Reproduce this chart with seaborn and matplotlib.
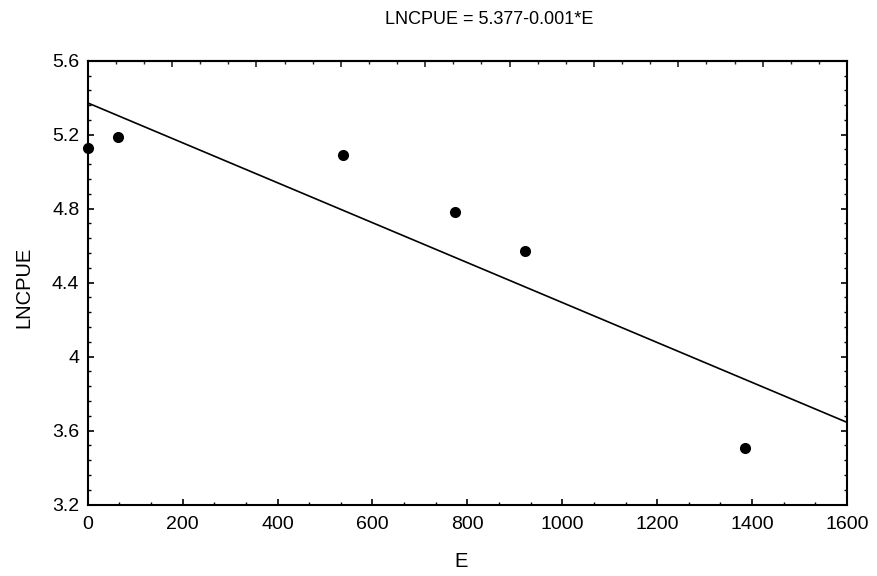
import matplotlib
matplotlib.use("Agg")
import matplotlib.pyplot as plt
from matplotlib.ticker import MultipleLocator, NullFormatter
import seaborn as sns
import pandas as pd

E = [0, 63, 537, 774, 921, 1384]
LNCPUE = [5.128, 5.189, 5.088, 4.782, 4.569, 3.503]
title_text = "LNCPUE = 5.377-0.001*E"

df = pd.DataFrame({"E": E, "LNCPUE": LNCPUE})

sns.set_theme(style="ticks")
plt.rcParams["font.family"] = ["Liberation Sans", "DejaVu Sans"]

fig = plt.figure(figsize=(8.77, 5.76), dpi=100)
ax = fig.add_axes([0.100, 0.1241, 0.8658, 0.7705])
ax.set_xlim(0, 1600)
ax.set_ylim(3.2, 5.6)

sns.regplot(data=df, x="E", y="LNCPUE", ax=ax, ci=None, truncate=False,
            scatter_kws=dict(s=64, color="black", alpha=1, linewidths=0, zorder=3, clip_on=False),
            line_kws=dict(color="black", linewidth=1.2))
ax.set_xlim(0, 1600)
ax.set_ylim(3.2, 5.6)

ax.set_yticks([3.2, 3.6, 4.0, 4.4, 4.8, 5.2, 5.6])
ax.set_yticklabels(["3.2", "3.6", "4", "4.4", "4.8", "5.2", "5.6"])
ax.set_xticks(range(0, 1601, 200))
ax.set_xticklabels([str(v) for v in range(0, 1601, 200)])
ax.xaxis.set_minor_locator(MultipleLocator(200 / 3))
ax.yaxis.set_minor_locator(MultipleLocator(0.08))

for s in ax.spines.values():
    s.set_linewidth(1.5)
    s.set_color("black")
    s.set_visible(True)

ax.tick_params(axis="both", which="major", direction="in", length=4, width=1.2,
               labelsize=14, colors="black", pad=6)
ax.tick_params(axis="x", which="major", pad=8)
ax.tick_params(axis="both", which="minor", direction="in", length=2.5, width=1.0, colors="black")
ax.tick_params(axis="y", which="both", right=True, left=True)
ax.tick_params(axis="x", which="both", top=False)

sec = ax.secondary_xaxis("top", functions=(lambda x: x * 27 / 1600, lambda x: x * 1600 / 27))
sec.xaxis.set_major_locator(MultipleLocator(3))
sec.xaxis.set_minor_locator(MultipleLocator(1))
sec.xaxis.set_major_formatter(NullFormatter())
sec.tick_params(which="major", direction="in", length=4, width=1.2)
sec.tick_params(which="minor", direction="in", length=2.5, width=1.0)
sec.spines["top"].set_linewidth(1.5)

ax.set_xlabel("E", fontsize=14.5, color="black")
ax.set_ylabel("LNCPUE", fontsize=14.5, color="black")
ax.xaxis.set_label_coords(0.492, -0.107)
ax.yaxis.set_label_coords(-0.071, 0.49)

fig.text(0.5576, 0.967, title_text, ha="center", va="center", fontsize=13, color="black")

fig.savefig("out.png", dpi=100, facecolor="white")
